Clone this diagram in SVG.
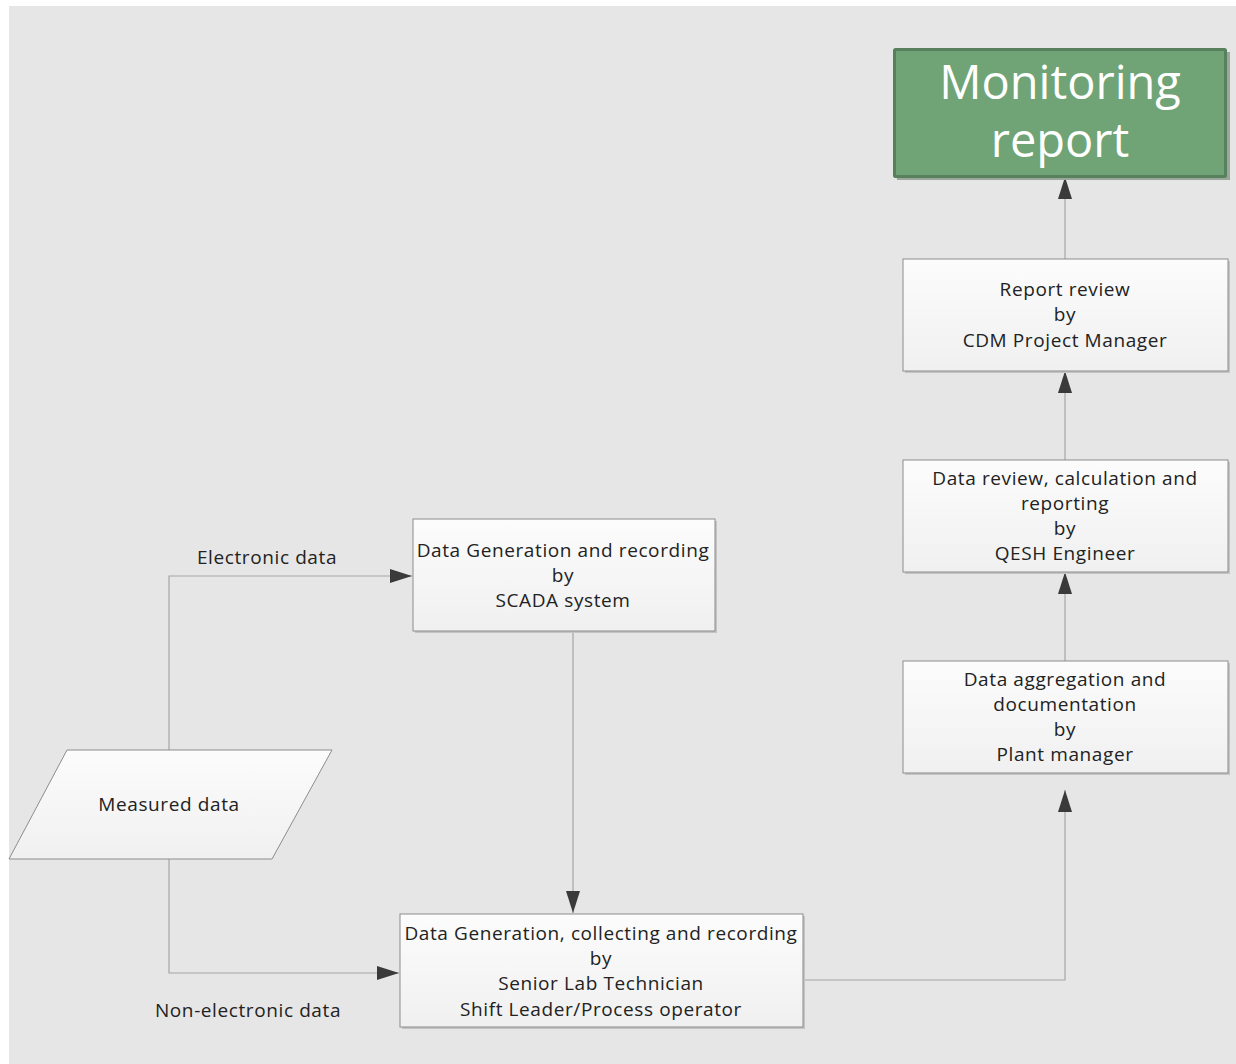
<svg xmlns="http://www.w3.org/2000/svg" width="1236" height="1064" viewBox="0 0 1236 1064">
<style>
.bx{fill:url(#g);stroke:#8c8c8c;stroke-width:1}
.sh{fill:#c4c4c4}
.t{font-family:"Open Sans","Noto Sans","DejaVu Sans",sans-serif;font-size:19px;letter-spacing:0.6px;fill:#222222;text-anchor:middle}
.c{fill:none;stroke:#a6a6a6;stroke-width:1.2}
.big{font-family:"Open Sans","Noto Sans",sans-serif;font-size:47px;fill:#ffffff;text-anchor:middle}
</style>
<defs>
<linearGradient id="g" x1="0" y1="0" x2="0" y2="1"><stop offset="0" stop-color="#fcfcfc"/><stop offset="1" stop-color="#f0f0f0"/></linearGradient>
<marker id="ah" markerWidth="22" markerHeight="14" refX="22" refY="7" orient="auto" markerUnits="userSpaceOnUse"><path d="M0,0 L22,7 L0,14 Z" fill="#3a3a3a"/></marker>
</defs>
<rect x="0" y="0" width="1236" height="1064" fill="#ffffff"/>
<rect x="9" y="6" width="1227" height="1058" fill="#e6e6e6"/>
<g id="connectors">
<path class="c" d="M169,750 V576 H412" marker-end="url(#ah)"/>
<path class="c" d="M169,859 V973 H399" marker-end="url(#ah)"/>
<path class="c" d="M573,631 V913" marker-end="url(#ah)"/>
<path class="c" d="M803,980 H1065 V790" marker-end="url(#ah)"/>
<path class="c" d="M1065,661 V572" marker-end="url(#ah)"/>
<path class="c" d="M1065,460 V371" marker-end="url(#ah)"/>
<path class="c" d="M1065,259 V177" marker-end="url(#ah)"/>
<text class="t" x="267" y="564">Electronic data</text>
<text class="t" x="248" y="1017">Non-electronic data</text>
</g>
<g id="monitoring-report">
<rect x="897" y="52" width="333" height="128" fill="#9aa89b"/>
<rect x="894.5" y="49.5" width="331" height="127" fill="#70a476" stroke="#58805c" stroke-width="3" rx="1"/>
<text class="big" x="1060" y="99">Monitoring</text>
<text class="big" x="1060" y="157">report</text>
</g>
<g id="report-review">
<rect class="sh" x="905" y="261" width="325" height="112"/>
<rect class="bx" x="903" y="259" width="325" height="112"/>
<text class="t" x="1065" y="296">Report review</text>
<text class="t" x="1065" y="321">by</text>
<text class="t" x="1065" y="347">CDM Project Manager</text>
</g>
<g id="data-review">
<rect class="sh" x="905" y="462" width="325" height="112"/>
<rect class="bx" x="903" y="460" width="325" height="112"/>
<text class="t" x="1065" y="485">Data review, calculation and</text>
<text class="t" x="1065" y="510">reporting</text>
<text class="t" x="1065" y="535">by</text>
<text class="t" x="1065" y="560">QESH Engineer</text>
</g>
<g id="data-aggregation">
<rect class="sh" x="905" y="663" width="325" height="112"/>
<rect class="bx" x="903" y="661" width="325" height="112"/>
<text class="t" x="1065" y="686">Data aggregation and</text>
<text class="t" x="1065" y="711">documentation</text>
<text class="t" x="1065" y="736">by</text>
<text class="t" x="1065" y="761">Plant manager</text>
</g>
<g id="scada">
<rect class="sh" x="415" y="521" width="302" height="112"/>
<rect class="bx" x="413" y="519" width="302" height="112"/>
<text class="t" x="563" y="557">Data Generation and recording</text>
<text class="t" x="563" y="582">by</text>
<text class="t" x="563" y="607">SCADA system</text>
</g>
<g id="manual-recording">
<rect class="sh" x="402" y="916" width="403" height="113"/>
<rect class="bx" x="400" y="914" width="403" height="113"/>
<text class="t" x="601" y="940">Data Generation, collecting and recording</text>
<text class="t" x="601" y="965">by</text>
<text class="t" x="601" y="990">Senior Lab Technician</text>
<text class="t" x="601" y="1016">Shift Leader/Process operator</text>
</g>
<g id="measured-data">
<polygon points="67,750 332,750 272,859 9,859" fill="url(#g)" stroke="#8c8c8c" stroke-width="1"/>
<text class="t" x="169" y="811">Measured data</text>
</g>
</svg>
